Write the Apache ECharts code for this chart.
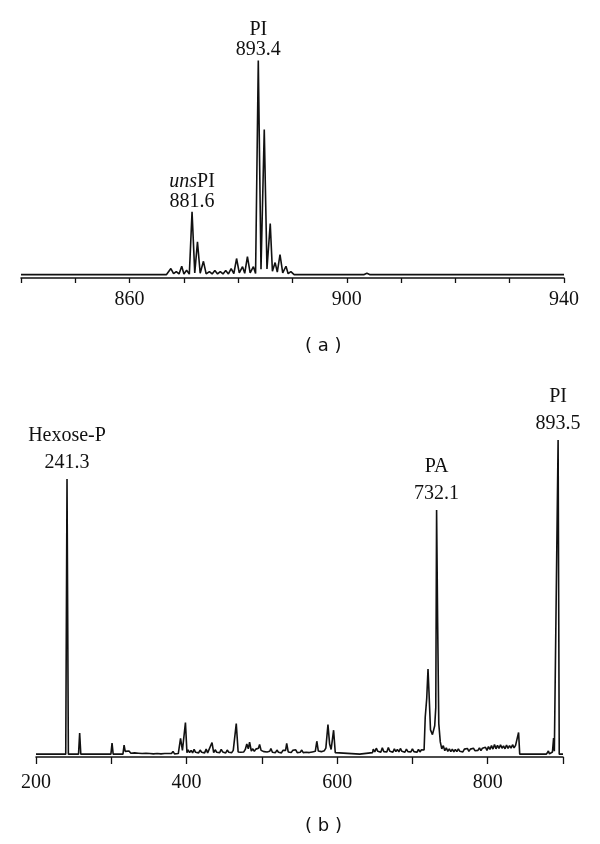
<!DOCTYPE html>
<html>
<head>
<meta charset="utf-8">
<script src="https://cdn.jsdelivr.net/npm/echarts@6/dist/echarts.min.js"></script>
<style>
  html, body { margin: 0; padding: 0; background: #fff; }
  #chart { width: 600px; height: 844px; }
</style>
</head>
<body>
<div id="chart"></div>
<script>
// panel (a): zoomed spectrum, m/z vs relative intensity (PI peak = 100)
var mzA = [840, 866.8, 867.6, 868.1, 868.6, 869.1, 869.6, 870.0, 870.5, 871.0, 871.5, 872.0, 872.5, 873.0, 873.6,
  874.1, 874.7, 875.2, 875.7, 876.2, 876.7, 877.2, 877.7, 878.2, 878.7, 879.2, 879.7, 880.2, 880.8, 881.2, 881.7,
  882.2, 882.8, 883.2, 883.7, 884.2, 884.8, 885.3, 885.9, 886.3, 886.8, 887.2, 887.7, 888.2, 888.8, 889.2, 889.7,
  890.3, 903.2, 903.7, 904.2, 940];
var intA = [0, 0, 2.8, 0.4, 1.4, 0.3, 3.9, 0.3, 2.0, 0.2, 29.3, 0.8, 15.3, 0.6, 6.2,
  0.3, 1.4, 0.3, 1.9, 0.3, 1.4, 0.3, 1.9, 0.3, 2.8, 0.5, 7.5, 0.8, 3.7, 0.6, 8.4,
  0.8, 3.7, 0.5, 100, 2.5, 67.8, 2.6, 23.8, 1.6, 5.6, 1.2, 9.3, 0.8, 3.9, 0.4, 1.4,
  0, 0, 0.6, 0, 0];
var tickLabelsA = [860, 900, 940];

// panel (a) annotations
var annMzA = [871.5, 883.7];
var annIntA = [29.3, 100];
var annNameA = ['uns', 'PI'];
var annValA = ['881.6', '893.4'];

// panel (b): full spectrum as [m/z, relative intensity]
var traceB = [
  [200, 0.3], [222, 0.3], [223, 0.8], [224, 0.3], [239.5, 0.3], [241.2, 87.6], [243, 0.3],
  [256.5, 0.3], [258, 7.0], [259.5, 0.3], [299.5, 0.3], [301, 3.8], [302.5, 0.3], [315.5, 0.3], [317, 3.2],
  [318.5, 1.2], [321, 0.7], [323.5, 1.3], [326, 0.6], [328.5, 1.1], [331, 0.7], [333.5, 1.2], [336, 0.6],
  [338.5, 1.0], [341, 0.5], [343.5, 1.1], [346, 0.6], [348.5, 0.9], [351, 0.5], [353.5, 1.0], [356, 0.4],
  [358.5, 0.8], [361, 0.5], [363.5, 0.9], [366, 0.4], [368.5, 0.8], [371, 0.5], [373.5, 0.7], [376, 0.5],
  [378.5, 0.8], [380, 0.5], [382, 1.2], [384, 0.4], [389, 0.5], [392, 5.3], [394.5, 1.5], [398.5, 10.3], [400.5, 0.8],
  [402, 1.7], [404, 0.8], [406, 1.5], [408, 0.7], [410, 1.8], [412, 0.9], [414, 1.4], [416, 0.7], [418, 1.6],
  [420, 0.9], [422, 1.3], [424, 0.7], [426, 1.9], [428, 0.7], [430.5, 1.2], [433.8, 4.0], [436, 0.8], [438, 1.7],
  [440, 0.9], [442, 1.5], [444, 0.8], [446, 1.8], [448, 1.0], [450, 1.4], [452, 0.7], [454, 1.6], [456, 0.9],
  [458, 1.3], [460, 0.8], [462, 1.5], [463.5, 1.0], [466, 10.0], [468.5, 1.0], [470, 1.6], [472, 0.9], [474, 1.5],
  [476, 1.0], [478, 1.8], [480, 3.5], [482, 2.0], [483.7, 4.1], [486, 1.3], [488, 2.0], [490, 1.2], [492, 1.9],
  [494, 1.4], [495.5, 2.2], [497, 3.4], [499, 1.5], [501, 2.0], [503, 1.1], [505, 1.7], [507, 1.0], [509, 1.6],
  [510.5, 1.2], [512, 2.1], [514, 0.9], [516, 1.5], [518, 0.8], [520, 1.6], [522, 0.9], [524, 1.4], [526, 0.7],
  [528, 1.5], [530, 0.9], [531.5, 1.5], [533, 3.7], [535, 1.0], [537, 1.6], [539, 0.8], [541, 1.5], [543, 0.9],
  [545, 1.7], [547, 0.8], [549, 1.4], [551, 0.9], [553, 1.6], [555, 0.8], [557, 1.3], [559, 0.9], [561, 1.5],
  [563, 0.8], [565, 1.4], [567, 1.0], [569, 1.6], [571, 1.2], [573, 4.4], [575, 1.3], [577, 1.7], [579, 1.1],
  [581, 1.6], [583, 1.4], [585, 2.2], [587.8, 9.7], [590, 3.5], [592, 1.8], [595.3, 7.9], [597.5, 0.8], [600, 0.3],
  [630, 0.3], [631, 0.8], [647, 0.8],
  [648, 1.9], [650, 1.0], [652, 2.2], [654, 1.2], [656, 1.8], [658, 0.9], [660, 2.3], [662, 1.1], [664, 1.7],
  [666, 1.0], [668, 2.4], [670, 1.2], [672, 1.6], [674, 0.9], [676, 2.0], [678, 1.1], [680, 1.8], [682, 1.0],
  [684, 2.1], [686, 1.2], [688, 1.6], [690, 0.9], [692, 1.9], [694, 1.1], [696, 1.7], [698, 1.0], [700, 2.0],
  [702, 1.1], [704, 1.6], [706, 0.9], [708, 1.8], [710, 1.0], [712, 1.7], [714, 1.2], [715.5, 1.6],
  [717, 12], [719, 18], [720.7, 27.3], [722, 20], [724, 8], [726.6, 6.5], [729.6, 9.3], [731, 15],
  [732.1, 77.8], [733.5, 42], [735, 10], [737, 4.2],
  [739, 2.0], [741, 3.0], [743, 1.4], [745, 2.3], [747, 1.2], [749, 2.0], [751, 1.1], [753, 1.9], [755, 1.0],
  [757, 1.8], [759, 1.1], [761, 2.0], [763, 1.2], [765, 1.8], [767, 1.0], [769, 1.9], [771, 1.3], [773, 2.1],
  [775, 1.2], [777, 1.9], [779, 1.3], [781, 2.2], [783, 1.4], [785, 2.0], [787, 1.5], [789, 2.3], [791, 1.4],
  [793, 2.2], [795, 1.6], [797, 2.5], [799, 1.5], [801, 2.7], [803, 1.8], [805, 3.0], [807, 1.9], [809, 3.4],
  [811, 2.0], [813, 3.1], [815, 2.1], [817, 3.3], [819, 2.2], [821, 2.9], [823, 2.0], [825, 3.2], [827, 2.1],
  [829, 3.0], [831, 2.2], [833, 3.3], [835, 2.3], [837, 3.1], [839, 2.6], [841, 7.2], [842.5, 0.3],
  [878, 0.3], [880.6, 1.3], [882, 0.4], [886, 1.0], [887.5, 5.4], [888.5, 1.2], [893.5, 100], [895, 0.3], [900, 0.3]
];
var tickLabelsB = [200, 400, 600, 800];

// panel (b) annotations
var annMzB = [241.2, 732.1, 893.5];
var annIntB = [87.6, 77.8, 100];
var annNameB = ['Hexose-P', 'PA', 'PI'];
var annValB = ['241.3', '732.1', '893.5'];

var serif = 'Liberation Serif';
var ink = '#111';

function pairs(xs, ys) {
  var out = [];
  for (var i = 0; i < xs.length; i++) out.push([xs[i], ys[i]]);
  return out;
}

var marksA = annMzA.map(function (m, i) {
  var f = i === 0 ? '{it|uns}{n|PI}\n{n|' + annValA[i] + '}' : '{n|' + annNameA[i] + '}\n{n|' + annValA[i] + '}';
  return { coord: [m, annIntA[i]], label: { formatter: f } };
});
var marksB = annMzB.map(function (m, i) {
  return { coord: [m, annIntB[i]], label: { formatter: '{n|' + annNameB[i] + '}\n{n|' + annValB[i] + '}' } };
});

function markCfg(data, lh, dist) {
  return {
    symbol: 'circle', symbolSize: 1,
    itemStyle: { color: 'rgba(0,0,0,0)' },
    label: {
      show: true, position: 'top', distance: dist, align: 'center',
      rich: {
        n: { fontFamily: serif, fontSize: 20, color: ink, lineHeight: lh, align: 'center' },
        it: { fontFamily: serif, fontSize: 20, color: ink, lineHeight: lh, fontStyle: 'italic' }
      }
    },
    data: data
  };
}

function xAxisCfg(idx, min, max, step, shown, tickLen, margin) {
  return {
    gridIndex: idx, type: 'value', min: min, max: max, interval: step,
    axisLine: { show: true, onZero: false, lineStyle: { color: ink, width: 1.5 } },
    axisTick: { show: true, inside: false, length: tickLen, lineStyle: { color: ink, width: 1.3 } },
    splitLine: { show: false },
    axisLabel: {
      margin: margin, fontFamily: serif, fontSize: 20, color: ink,
      formatter: function (v) { return shown.indexOf(v) >= 0 ? String(v) : ''; }
    }
  };
}

var chart = echarts.init(document.getElementById('chart'), null, { renderer: 'canvas' });
chart.setOption({
  animation: false,
  backgroundColor: '#fff',
  grid: [
    { left: 21, right: 36, top: 40, bottom: 566 },
    { left: 36, right: 37, top: 400, bottom: 87 }
  ],
  xAxis: [
    xAxisCfg(0, 840, 940, 10, tickLabelsA, 5, 12),
    xAxisCfg(1, 200, 900, 100, tickLabelsB, 7, 16)
  ],
  yAxis: [
    // baseline sits a little above the axis line in (a), giving the double rule
    { gridIndex: 0, type: 'value', min: -1.6, max: 109.6, show: false, splitLine: { show: false } },
    { gridIndex: 1, type: 'value', min: -0.6, max: 112.7, show: false, splitLine: { show: false } }
  ],
  series: [
    {
      type: 'line', xAxisIndex: 0, yAxisIndex: 0, data: pairs(mzA, intA),
      showSymbol: false, lineStyle: { color: ink, width: 1.6 },
      markPoint: markCfg(marksA, 20, 0)
    },
    {
      type: 'line', xAxisIndex: 1, yAxisIndex: 1, data: traceB,
      showSymbol: false, lineStyle: { color: ink, width: 1.6 },
      markPoint: markCfg(marksB, 27, 2)
    }
  ],
  graphic: [
    { type: 'text', left: 305, top: 337, style: { text: '( a )', font: '18px "DejaVu Sans"', fill: ink } },
    { type: 'text', left: 305, top: 817, style: { text: '( b )', font: '18px "DejaVu Sans"', fill: ink } }
  ]
});
</script>
</body>
</html>
